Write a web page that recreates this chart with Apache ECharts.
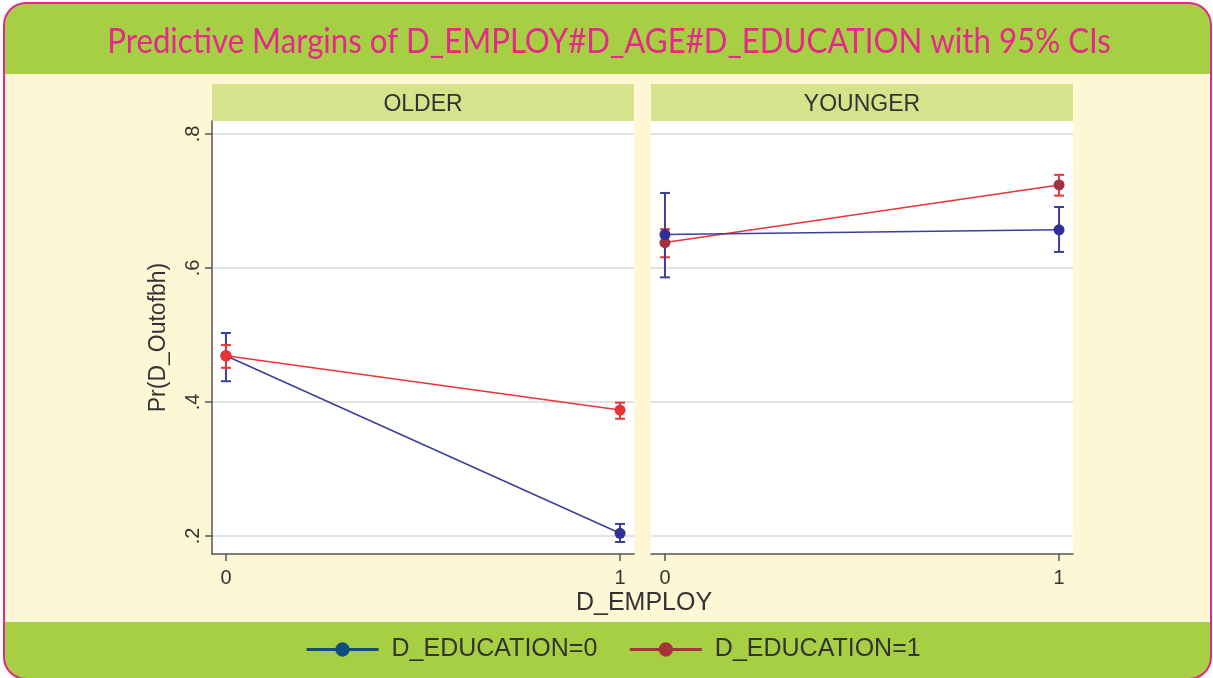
<!DOCTYPE html>
<html>
<head>
<meta charset="utf-8">
<script src="https://cdn.jsdelivr.net/npm/echarts@6/dist/echarts.min.js"></script>
<style>
  html, body { margin: 0; padding: 0; background: #ffffff; }
  #chart { width: 1213px; height: 678px; }
</style>
</head>
<body>
<div id="chart"></div>
<script>
// x categories (D_EMPLOY) and y ticks
const employ = [0, 1]
const yTicks = [0.2, 0.4, 0.6, 0.8]
const yTickLabels = ['.2', '.4', '.6', '.8']
const panels = ['OLDER', 'YOUNGER']

// OLDER panel
const olderEdu0 = [0.469, 0.204]
const olderEdu0Lo = [0.431, 0.191]
const olderEdu0Hi = [0.503, 0.218]
const olderEdu1 = [0.469, 0.388]
const olderEdu1Lo = [0.451, 0.375]
const olderEdu1Hi = [0.485, 0.399]

// YOUNGER panel
const youngerEdu0 = [0.650, 0.657]
const youngerEdu0Lo = [0.586, 0.624]
const youngerEdu0Hi = [0.712, 0.691]
const youngerEdu1 = [0.638, 0.724]
const youngerEdu1Lo = [0.616, 0.708]
const youngerEdu1Hi = [0.658, 0.739]

const blue = '#3b3f98'
const red = '#ee3338'
const darkRed = '#a3303a'

const chart = echarts.init(document.getElementById('chart'))

function pairs(ys) {
  return employ.map((x, i) => [x, ys[i]])
}
function ciData(lo, hi) {
  return employ.map((x, i) => [x, lo[i], hi[i]])
}
function errBars(name, idx, lo, hi, color) {
  return {
    name: name,
    type: 'custom',
    xAxisIndex: idx,
    yAxisIndex: idx,
    silent: true,
    data: ciData(lo, hi),
    renderItem: function (params, api) {
      const x = api.value(0)
      const top = api.coord([x, api.value(2)])
      const bot = api.coord([x, api.value(1)])
      const w = 5
      const style = { stroke: color, lineWidth: 2 }
      return {
        type: 'group',
        children: [
          { type: 'line', shape: { x1: top[0], y1: top[1], x2: bot[0], y2: bot[1] }, style: style },
          { type: 'line', shape: { x1: top[0] - w, y1: top[1], x2: top[0] + w, y2: top[1] }, style: style },
          { type: 'line', shape: { x1: bot[0] - w, y1: bot[1], x2: bot[0] + w, y2: bot[1] }, style: style }
        ]
      }
    }
  }
}
function lineSeries(name, idx, ys, lineColor, markColor) {
  return {
    name: name,
    type: 'line',
    xAxisIndex: idx,
    yAxisIndex: idx,
    data: pairs(ys),
    symbol: 'circle',
    symbolSize: 11,
    showSymbol: true,
    animation: false,
    lineStyle: { color: lineColor, width: 1.5 },
    itemStyle: { color: markColor }
  }
}

const gridLeft = [212, 651]
const gridW = 422
const gridTop = 121
const gridH = 433

const option = {
  animation: false,
  backgroundColor: '#ffffff',
  graphic: [
    { type: 'rect', z: -10, shape: { x: 4, y: 3, width: 1207, height: 676, r: 22 }, style: { fill: '#a7cf43', stroke: '#e8258a', lineWidth: 2 } },
    { type: 'rect', z: -9, shape: { x: 5, y: 74, width: 1205, height: 548 }, style: { fill: '#fef7d5' } },
    { type: 'rect', z: -8, shape: { x: gridLeft[0], y: 84, width: gridW, height: 37 }, style: { fill: '#d5e38c' } },
    { type: 'rect', z: -8, shape: { x: gridLeft[1], y: 84, width: gridW, height: 37 }, style: { fill: '#d5e38c' } },
    { type: 'text', x: 609, y: 42, scaleX: 0.918, style: { text: 'Predictive Margins of D_EMPLOY#D_AGE#D_EDUCATION with 95% CIs', font: '34px Lato', fill: '#e6288a', textAlign: 'center', textVerticalAlign: 'middle' } },
    { type: 'text', x: gridLeft[0] + gridW / 2, y: 105, style: { text: panels[0], font: '23px "Liberation Sans"', fill: '#333333', textAlign: 'center', textVerticalAlign: 'middle' } },
    { type: 'text', x: gridLeft[1] + gridW / 2, y: 105, style: { text: panels[1], font: '23px "Liberation Sans"', fill: '#333333', textAlign: 'center', textVerticalAlign: 'middle' } },
    { type: 'text', x: 644, y: 603, style: { text: 'D_EMPLOY', font: '25px "Liberation Sans"', fill: '#333333', textAlign: 'center', textVerticalAlign: 'middle' } }
  ],
  legend: {
    left: 305,
    top: 637,
    padding: 0,
    itemWidth: 72,
    itemHeight: 18,
    itemGap: 31,
    textStyle: { fontFamily: 'Liberation Sans', fontSize: 25, color: '#333333', padding: [0, 0, 0, 8] },
    data: [
      { name: 'D_EDUCATION=0', itemStyle: { color: '#124d80' }, lineStyle: { color: '#124d80', width: 3 } },
      { name: 'D_EDUCATION=1', itemStyle: { color: '#a6323b' }, lineStyle: { color: '#a6323b', width: 3 } }
    ]
  },
  grid: gridLeft.map(l => ({ left: l, top: gridTop, width: gridW, height: gridH, show: true, backgroundColor: '#ffffff', borderWidth: 0 })),
  xAxis: [0, 1].map(i => ({
    type: 'value',
    gridIndex: i,
    min: -0.0354,
    max: 1.0354,
    axisLine: { show: true, onZero: false, lineStyle: { color: '#555555', width: 1.5 } },
    axisTick: { show: true, length: 7, customValues: employ, lineStyle: { color: '#555555', width: 1.5 } },
    axisLabel: { customValues: employ, fontFamily: 'Liberation Sans', fontSize: 20, color: '#333333', margin: 14 },
    splitLine: { show: false }
  })),
  yAxis: [0, 1].map(i => ({
    type: 'value',
    gridIndex: i,
    min: 0.1731,
    max: 0.8194,
    name: i === 0 ? 'Pr(D_Outofbh)' : '',
    nameLocation: 'middle',
    nameGap: 42,
    nameTextStyle: { fontFamily: 'Liberation Sans', fontSize: 23, color: '#333333' },
    axisLine: { show: i === 0, onZero: false, lineStyle: { color: '#555555', width: 1.5 } },
    axisTick: { show: i === 0, length: 7, customValues: yTicks, lineStyle: { color: '#555555', width: 1.5 } },
    axisLabel: {
      show: i === 0,
      customValues: yTicks,
      rotate: 90,
      margin: 9,
      fontFamily: 'Liberation Sans',
      fontSize: 20,
      color: '#333333',
      formatter: v => yTickLabels[yTicks.findIndex(t => Math.abs(t - v) < 1e-6)]
    },
    splitLine: { show: true, lineStyle: { color: '#d9d9d9', width: 1.5 } }
  })),
  series: [
    errBars('ci0o', 0, olderEdu0Lo, olderEdu0Hi, blue),
    lineSeries('D_EDUCATION=0', 0, olderEdu0, blue, '#2e3192'),
    errBars('ci1o', 0, olderEdu1Lo, olderEdu1Hi, red),
    lineSeries('D_EDUCATION=1', 0, olderEdu1, red, '#ec3137'),
    errBars('ci1y', 1, youngerEdu1Lo, youngerEdu1Hi, red),
    lineSeries('D_EDUCATION=1', 1, youngerEdu1, red, darkRed),
    errBars('ci0y', 1, youngerEdu0Lo, youngerEdu0Hi, blue),
    lineSeries('D_EDUCATION=0', 1, youngerEdu0, blue, '#2e3192')
  ]
}
chart.setOption(option)
</script>
</body>
</html>
